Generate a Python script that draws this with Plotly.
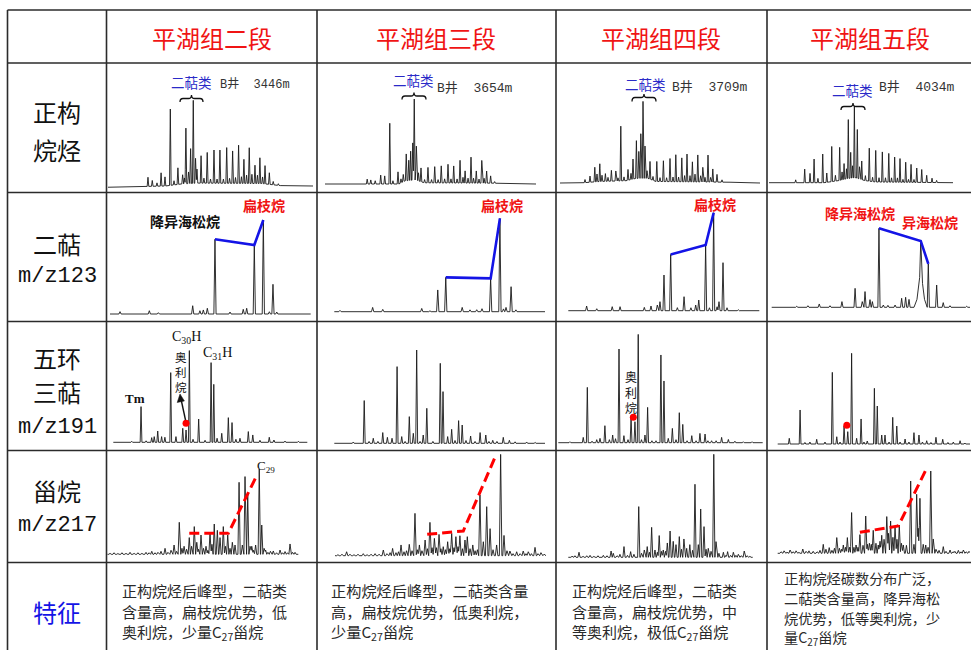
import numpy as np
import plotly.graph_objects as go

W, H = 971, 650
CJK = "Noto Sans CJK SC"
MONO = "Liberation Mono, Noto Sans CJK SC"
SERIF = "Liberation Serif, Noto Sans CJK SC"
RED = "#f01414"
BLUE = "#1414e6"
BLUE_LBL = "#2a2ac8"
INK = "#1a1a1a"

# ---------------- table text ----------------
stages = ["平湖组二段", "平湖组三段", "平湖组四段", "平湖组五段"]
wells = ["B井\u00a0\u00a03446m", "B井\u00a0\u00a03654m", "B井\u00a0\u00a03709m", "B井\u00a0\u00a04034m"]
features = [
    ["正构烷烃后峰型，二萜类", "含量高，扁枝烷优势，低", "奥利烷，少量C<sub>27</sub>甾烷"],
    ["正构烷烃后峰型，二萜类含量", "高，扁枝烷优势，低奥利烷，", "少量C<sub>27</sub>甾烷"],
    ["正构烷烃后峰型，二萜类", "含量高，扁枝烷优势，中", "等奥利烷，极低C<sub>27</sub>甾烷"],
    ["正构烷烃碳数分布广泛，", "二萜类含量高，降异海松", "烷优势，低等奥利烷，少", "量C<sub>27</sub>甾烷"],
]

# ---------------- chromatogram peak tables ----------------
# retention: % of run; abundance: % of the largest peak in that trace

# TIC, n-alkanes
tic2_rt = [19.5, 21.6, 23.9, 25.9, 27.8, 30.4, 32.2, 34.1, 36.4, 37.3, 38.0, 39.3, 40.3, 41.6, 42.7, 43.4, 45.4, 46.8, 48.4, 50.0, 51.7, 53.2, 54.6, 56.3, 57.9, 59.3, 60.8, 62.2, 63.7, 65.1, 66.3, 67.6, 68.9, 70.2, 71.7, 72.9, 74.1, 75.4, 76.6, 78.7, 80.6, 83.1]
tic2_ab = [11, 7, 4, 16, 11, 92, 5, 20, 11, 7, 67, 14, 42, 100, 30, 17, 33, 6, 37, 5, 40, 5, 40, 5, 43, 6, 39, 7, 46, 8, 29, 10, 43, 11, 22, 10, 31, 8, 22, 14, 4, 2]
tic2_base_rt = [0, 28, 36, 44, 75, 84, 100]
tic2_base_ab = [-1.5, 0, 2.5, 3.5, 3, 0.5, 0]

tic3_rt = [20.0, 21.7, 23.8, 26.4, 28.3, 30.7, 32.2, 34.6, 36.0, 37.1, 38.5, 39.7, 40.6, 41.6, 42.3, 43.3, 44.3, 45.5, 47.2, 48.8, 50.5, 52.0, 53.6, 55.1, 56.7, 58.3, 59.7, 61.0, 62.6, 64.0, 65.4, 66.4, 67.8, 69.2, 70.4, 71.7, 73.0, 74.3, 75.4, 76.6, 78.5, 80.4]
tic3_ab = [6, 5, 4, 11, 10, 75, 4, 15, 5, 9, 33, 25, 36, 46, 100, 42, 10, 17, 4, 19, 4, 20, 4, 21, 5, 23, 5, 21, 5, 28, 7, 15, 6, 32, 6, 15, 5, 28, 6, 15, 9, 2]
tic3_base_rt = [0, 35, 38, 43, 47, 80, 100]
tic3_base_ab = [0, 0, 4, 5, 1.5, 1, 0]

tic4_rt = [12.5, 15.0, 17.4, 18.5, 19.9, 21.0, 22.7, 24.0, 25.7, 27.9, 29.0, 30.4, 32.0, 34.0, 35.5, 36.5, 38.2, 39.4, 40.4, 41.5, 42.5, 43.5, 45.0, 46.5, 48.4, 50.0, 51.7, 53.3, 55.0, 56.5, 57.9, 59.3, 60.9, 62.3, 63.5, 65.0, 66.2, 67.5, 68.9, 70.3, 71.4, 72.5, 74.0, 75.3, 76.4, 78.5, 81.0]
tic4_ab = [4, 8, 19, 10, 23, 8, 10, 5, 14, 13, 4, 71, 5, 14, 8, 26, 49, 35, 58, 100, 42, 10, 23, 5, 26, 5, 27, 5, 30, 6, 35, 6, 31, 8, 36, 8, 26, 10, 35, 8, 19, 6, 35, 6, 17, 10, 3]
tic4_base_rt = [0, 10, 20, 33, 38, 44, 48, 85, 100]
tic4_base_ab = [0, 0, 2, 3, 6, 6, 2, 1, 0]

tic5_rt = [14.5, 19.4, 22.3, 24.5, 26.6, 29.2, 31.4, 34.1, 36.1, 38.4, 39.7, 40.8, 42.1, 43.1, 44.4, 45.4, 46.4, 48.0, 49.2, 50.4, 52.4, 54.5, 56.3, 58.0, 59.8, 61.6, 63.3, 65.1, 66.6, 68.3, 69.8, 71.2, 72.8, 74.3, 75.8, 77.2, 78.8, 80.3, 83.0, 85.7, 88.6, 91.1]
tic5_ab = [4, 19, 13, 33, 6, 40, 13, 49, 8, 46, 11, 22, 14, 82, 36, 17, 100, 68, 17, 26, 7, 46, 6, 44, 6, 42, 6, 40, 6, 35, 6, 33, 4, 28, 4, 25, 4, 20, 18, 10, 6, 3]
tic5_base_rt = [0, 30, 38, 43, 47, 52, 58, 100]
tic5_base_ab = [0, 0, 3, 6, 7, 3, 1, 0]

# m/z 123, bicyclic diterpanes
m123_2_rt = [5.0, 19.6, 24.1, 41.2, 44.8, 46.5, 48.5, 52.3, 59.8, 66.4, 68.1, 71.9, 76.4, 79.4, 81.2, 83.1]
m123_2_ab = [2.5, 3.5, 1.4, 8.8, 3.5, 4.3, 6.1, 79.5, 2.1, 5.0, 6.1, 73.4, 100, 2.4, 31.6, 2.1]
m123_2_base_rt = [0, 100]
m123_2_base_ab = [0, 0]
m123_2_guide_rt = [52.3, 71.9, 76.4]

m123_3_rt = [2.7, 18.2, 23.0, 41.5, 45.4, 49.1, 52.9, 60.7, 64.4, 67.6, 70.1, 74.2, 78.6, 80.3, 81.5, 83.9, 86.2]
m123_3_ab = [1.4, 4.6, 2.5, 3.5, 1.0, 23.3, 36.8, 4.6, 2.0, 2.1, 3.2, 35.7, 100, 3.0, 4.6, 26.8, 2.0]
m123_3_base_rt = [0, 100]
m123_3_base_ab = [0, 0]
m123_3_guide_rt = [52.9, 74.2, 78.6]

m123_4_rt = [9.6, 14.9, 23.0, 27.1, 39.8, 43.3, 46.6, 48.0, 50.1, 53.6, 57.1, 60.6, 64.2, 66.7, 68.3, 71.9, 73.9, 76.1, 77.9, 78.9, 81.0, 83.1, 89.0]
m123_4_ab = [4.8, 2.0, 4.1, 4.1, 3.4, 4.8, 5.8, 9.2, 36.4, 57.4, 3.1, 14.3, 3.0, 5.8, 10.9, 67.0, 3.0, 100, 4.0, 9.2, 49.0, 3.0, 1.0]
m123_4_base_rt = [0, 100]
m123_4_base_ab = [0, 0]
m123_4_guide_rt = [53.6, 71.9, 76.1]

m123_5_rt = [12.6, 18.2, 23.9, 29.3, 35.3, 41.9, 45.5, 46.9, 49.4, 50.6, 53.9, 56.1, 58.4, 62.0, 65.3, 67.3, 69.0, 74.9, 78.7, 82.9, 86.2, 89.6, 98.0]
m123_5_ab = [1.3, 2.0, 4.2, 2.0, 7.2, 24.0, 7.2, 19.9, 9.7, 7.2, 100, 2.9, 2.5, 2.9, 11.4, 12.7, 10.0, 34, 55, 28.2, 5.9, 2.0, 1.3]
# broad isopimarane envelope under the sharp apex
m123_5_base_rt = [0, 71.5, 73.0, 74.0, 74.9, 75.8, 76.8, 77.8, 100]
m123_5_base_ab = [0, 0, 10, 30, 50, 30, 10, 0, 0]
m123_5_guide_rt = [53.9, 74.9, 78.7]

# m/z 191, terpanes
m191_2_rt = [9.5, 14.3, 16.9, 19.8, 21.1, 22.9, 24.9, 26.6, 29.6, 32.3, 35.8, 37.5, 39.2, 41.1, 44.0, 47.3, 50.4, 51.8, 53.5, 55.9, 59.3, 61.2, 63.2, 65.3, 69.6, 71.9, 75.6, 80.4, 82.8, 88.5, 95.4]
m191_2_ab = [1.1, 38.9, 1.6, 5.1, 6.2, 12.3, 6.2, 5.5, 76.0, 6.2, 15.3, 13.4, 100, 3.3, 25.4, 2.2, 86.9, 63.2, 4.4, 9.8, 26.9, 21.5, 3.3, 4.4, 11.7, 8.0, 2.2, 5.5, 2.5, 1.4, 1.1]
m191_2_ole = (37.5, 20.7)

m191_3_rt = [9.0, 14.2, 16.5, 18.5, 20.7, 23.0, 25.2, 27.4, 29.8, 32.0, 33.6, 35.6, 37.5, 39.1, 40.7, 42.2, 43.9, 46.8, 50.3, 51.6, 53.8, 55.7, 57.3, 59.0, 60.7, 62.5, 64.7, 66.8, 69.2, 71.9, 73.4, 75.2, 77.2, 80.2, 83.1, 85.8, 91.3, 95.3]
m191_3_ab = [1.4, 45.8, 2.0, 5.4, 2.0, 11.5, 6.4, 5.4, 82.2, 7.2, 2.0, 28.6, 10.7, 100, 2.0, 8.9, 37.5, 2.0, 85.7, 55.4, 7.2, 15.0, 3.0, 24.3, 19.6, 3.0, 7.8, 2.0, 11.5, 8.9, 2.0, 3.2, 2.0, 6.4, 3.2, 1.6, 1.4, 1.0]
m191_3_ole = None

m191_4_rt = [5.7, 12.2, 14.2, 16.5, 18.8, 20.4, 22.8, 25.0, 26.6, 28.0, 29.7, 32.1, 34.1, 35.6, 37.5, 39.1, 40.7, 42.4, 43.7, 45.8, 47.8, 50.2, 51.7, 53.8, 55.8, 57.6, 59.2, 60.9, 63.0, 65.3, 67.4, 69.3, 71.8, 73.2, 75.0, 77.2, 79.9, 83.2, 86.4, 90.5, 94.8]
m191_4_ab = [0.9, 4.9, 51.1, 1.4, 2.8, 4.0, 15.7, 2.8, 7.1, 3.7, 86.5, 6.5, 2.8, 24.0, 19.4, 100, 2.8, 7.1, 32.6, 1.8, 1.8, 81.0, 57.0, 4.0, 13.2, 2.8, 27.7, 16.9, 1.8, 6.5, 1.8, 8.6, 8.0, 1.8, 1.8, 1.8, 4.9, 3.0, 1.4, 0.9, 0.9]
m191_4_ole = (36.7, 23.5)

m191_5_rt = [6.0, 11.6, 14.1, 16.7, 20.2, 24.5, 28.3, 30.6, 32.3, 34.4, 36.3, 38.3, 40.9, 43.2, 44.7, 46.4, 50.1, 51.6, 53.9, 55.6, 57.7, 59.6, 61.7, 63.4, 66.0, 68.0, 70.6, 73.2, 75.0, 77.2, 79.4, 82.0, 85.5, 88.2, 91.0, 94.5, 97.0]
m191_5_ab = [6.3, 37.5, 1.7, 2.2, 5.2, 2.2, 79.0, 8.0, 2.2, 19.8, 13.6, 100, 6.3, 27.6, 2.2, 3.3, 61.4, 41.9, 9.9, 9.9, 2.2, 29.4, 19.8, 2.2, 5.5, 2.2, 12.5, 9.9, 2.2, 3.6, 1.7, 7.4, 5.2, 1.7, 2.2, 3.6, 1.1]
m191_5_ole = (35.8, 20.6)

# m/z 217, steranes
m217_2_rt = [2.1, 4.2, 6.2, 8.3, 10.4, 12.5, 14.6, 16.6, 18.7, 20.8, 22.4, 23.8, 25.5, 27.0, 28.6, 30.7, 32.2, 33.8, 35.4, 36.7, 38.1, 39.5, 40.6, 41.9, 43.3, 44.5, 45.9, 47.2, 48.1, 49.4, 50.7, 52.0, 53.0, 54.1, 55.1, 56.3, 57.9, 59.3, 61.0, 62.1, 63.3, 64.5, 65.7, 67.1, 69.2, 70.9, 72.3, 73.7, 74.9, 75.8, 76.7, 77.8, 79.7, 81.0, 82.2, 83.0, 84.2, 85.5, 87.0, 88.7, 90.5, 91.8, 93.1, 94.4, 95.7, 97.0, 98.3]
m217_2_ab = [1.2, 1.8, 0.9, 1.8, 1.2, 2.3, 1.2, 1.8, 1.2, 2.3, 1.8, 3.5, 1.8, 2.3, 3.5, 7.0, 2.3, 4.7, 10.9, 3.5, 37.5, 7.0, 9.4, 5.9, 19.6, 9.4, 32.5, 14.1, 5.9, 22.6, 7.0, 9.4, 4.7, 25.8, 11.7, 35.5, 28.1, 19.6, 32.5, 9.4, 22.6, 7.0, 14.1, 10.9, 84.4, 10.9, 91.1, 69.5, 9.4, 9.4, 4.7, 10.9, 100, 34.3, 7.0, 5.0, 2.3, 3.5, 3.9, 1.8, 5.0, 1.8, 3.2, 1.8, 12.1, 2.3, 2.3]
m217_2_trend_rt = [43.3, 63.6, 78.7]
m217_2_trend_ab = [24.6, 24.6, 93.8]

m217_3_rt = [1.4, 3.3, 5.5, 7.1, 9.0, 10.9, 13.4, 15.2, 17.1, 19.0, 20.9, 22.9, 24.6, 26.1, 27.3, 28.9, 30.1, 31.3, 32.7, 33.9, 35.2, 36.5, 37.9, 39.0, 40.0, 41.2, 42.7, 43.8, 45.0, 46.0, 47.1, 48.1, 49.3, 50.2, 51.3, 52.4, 53.4, 54.4, 55.3, 56.4, 57.3, 58.3, 59.2, 60.4, 61.6, 62.7, 64.0, 65.3, 66.4, 67.5, 68.7, 70.3, 71.9, 73.5, 74.9, 76.6, 78.5, 80.1, 81.5, 82.9, 84.4, 86.1, 87.7, 89.2, 90.5, 91.6, 93.1, 94.8, 96.2, 97.6, 99.1]
m217_3_ab = [1.0, 1.5, 3.9, 1.5, 1.0, 1.5, 2.0, 1.0, 1.5, 2.0, 1.5, 5.6, 2.0, 3.0, 7.2, 3.0, 3.9, 10.6, 3.9, 4.9, 11.2, 4.9, 41.8, 5.9, 10.6, 4.9, 15.5, 6.9, 32.9, 7.9, 17.1, 7.9, 21.0, 6.9, 8.9, 5.9, 13.8, 6.9, 22.0, 7.9, 18.8, 8.9, 19.7, 6.9, 15.5, 18.8, 6.9, 10.6, 4.9, 5.9, 59.9, 13.8, 48.4, 26.7, 5.9, 10.6, 100, 20.0, 4.9, 4.6, 2.0, 3.9, 2.0, 4.6, 2.0, 3.9, 2.0, 8.2, 2.0, 3.0, 1.5]
m217_3_trend_rt = [43.7, 60.8, 76.3]
m217_3_trend_ab = [21.1, 24.4, 99.4]

m217_4_rt = [2.0, 3.6, 5.8, 8.0, 10.0, 11.8, 13.9, 16.1, 19.0, 21.0, 23.2, 24.4, 26.4, 28.0, 30.2, 32.1, 33.8, 35.6, 38.2, 39.7, 41.2, 42.8, 44.0, 45.2, 47.0, 48.3, 49.3, 50.5, 51.5, 52.7, 53.7, 55.2, 56.9, 58.4, 60.2, 61.4, 62.7, 64.2, 65.9, 67.4, 68.7, 70.5, 71.8, 73.6, 74.7, 75.9, 77.4, 78.9, 80.1, 81.7, 84.1, 85.5, 86.4, 88.0, 89.5, 90.9, 92.2, 93.7, 95.4, 96.9, 98.5]
m217_4_ab = [1.0, 1.5, 4.9, 1.0, 1.5, 1.9, 1.0, 1.5, 1.9, 1.5, 6.1, 3.9, 1.5, 2.9, 10.4, 1.9, 5.5, 2.9, 49.2, 3.9, 7.1, 10.4, 4.9, 29.1, 7.1, 4.9, 21.1, 5.8, 7.1, 5.8, 13.9, 25.5, 15.5, 12.3, 20.1, 7.8, 17.8, 8.7, 12.3, 6.8, 70.9, 12.3, 46.9, 29.8, 7.8, 8.7, 5.8, 100, 15.2, 3.9, 4.9, 1.9, 5.5, 1.9, 4.9, 1.9, 2.9, 1.5, 6.1, 1.5, 1.0]
m217_4_trend_rt = None
m217_4_trend_ab = None

m217_5_rt = [1.7, 3.3, 4.8, 6.4, 7.9, 9.5, 11.0, 13.0, 14.7, 16.2, 18.4, 20.4, 21.9, 23.6, 25.0, 26.7, 28.1, 29.4, 30.6, 32.0, 33.1, 34.0, 35.1, 36.1, 37.2, 38.3, 39.5, 40.6, 41.6, 42.6, 44.2, 45.6, 46.5, 47.5, 48.5, 49.5, 50.9, 52.1, 53.0, 53.9, 55.1, 56.5, 57.4, 58.5, 59.7, 60.8, 61.8, 63.0, 64.1, 65.1, 66.7, 68.9, 70.6, 72.0, 72.8, 73.7, 75.4, 76.7, 77.9, 79.3, 80.6, 82.0, 83.6, 85.8, 87.2, 89.3, 90.8, 91.8, 93.6, 95.0, 96.2, 97.6, 99.1]
m217_5_ab = [1.8, 3.0, 1.2, 4.0, 1.8, 3.0, 1.2, 5.2, 2.4, 3.0, 2.4, 1.8, 3.6, 10.9, 4.9, 6.9, 3.6, 6.1, 19.1, 6.1, 4.9, 10.1, 7.3, 19.1, 7.3, 49.5, 7.3, 10.1, 7.3, 22.7, 9.7, 45.3, 10.9, 12.2, 10.9, 27.9, 12.2, 10.1, 14.6, 21.9, 17.0, 44.6, 24.3, 39.2, 19.4, 32.4, 17.0, 34.4, 12.2, 10.1, 9.7, 87.8, 10.9, 71.7, 30.4, 66.8, 10.9, 10.1, 7.3, 100, 17.4, 4.9, 3.6, 8.1, 2.4, 4.0, 1.8, 2.4, 3.6, 1.8, 4.0, 1.8, 2.4]
m217_5_trend_rt = [42.6, 62.5, 77.2]
m217_5_trend_ab = [25.5, 33.2, 103.3]

# ---------------- page geometry (pixels) ----------------
VX = [7.5, 106.5, 317, 556, 767]          # vertical rules
HY = [10, 63, 192.5, 321.5, 450.5, 562.5]  # horizontal rules
COL_EDGES = [106.5, 317, 556, 767, 971]
# per row/column: trace start x, trace end x, baseline y, pixel height of 100 %
FRAME = [
    [(108, 313, 186, 83), (325, 536, 184, 81), (560, 760, 183, 77), (769, 953, 182.7, 71.7)],
    [(110, 310.7, 314, 94), (334.3, 545, 311.7, 93.3), (568.3, 759.3, 310.7, 98), (771.7, 970.7, 307.3, 79)],
    [(113.3, 307.3, 442.3, 91.7), (334.3, 545, 443.3, 93.3), (558.3, 762.7, 442.7, 108.3), (777.7, 970.7, 444, 90.7)],
    [(106, 298.3, 554.3, 85.3), (335, 546, 555.7, 101.3), (568.3, 752.7, 557.3, 103), (777.7, 970.7, 553.3, 82.3)],
]
HALF_WIDTH = [0.4, 0.55, 0.45, 0.6]


def px(x):
    return x / W


def py(y):
    return 1 - y / H


def profile(rt, ab, hw, base_rt=None, base_ab=None):
    """Piecewise-linear chromatogram: triangular peaks on a baseline."""
    rt = np.asarray(rt, float)
    ab = np.asarray(ab, float)
    knots = [0.0, 100.0] + list(rt) + list(rt - hw) + list(rt + hw)
    if base_rt is not None:
        knots += list(base_rt)
    x = np.unique(np.clip(knots, 0, 100))
    y = np.zeros_like(x)
    if base_rt is not None:
        y += np.interp(x, base_rt, base_ab)
    for r, a in zip(rt, ab):
        y += a * np.clip(1 - np.abs(x - r) / hw, 0, None)
    return x, y


rows = [
    [(tic2_rt, tic2_ab, tic2_base_rt, tic2_base_ab), (tic3_rt, tic3_ab, tic3_base_rt, tic3_base_ab),
     (tic4_rt, tic4_ab, tic4_base_rt, tic4_base_ab), (tic5_rt, tic5_ab, tic5_base_rt, tic5_base_ab)],
    [(m123_2_rt, m123_2_ab, m123_2_base_rt, m123_2_base_ab), (m123_3_rt, m123_3_ab, m123_3_base_rt, m123_3_base_ab),
     (m123_4_rt, m123_4_ab, m123_4_base_rt, m123_4_base_ab), (m123_5_rt, m123_5_ab, m123_5_base_rt, m123_5_base_ab)],
    [(m191_2_rt, m191_2_ab, None, None), (m191_3_rt, m191_3_ab, None, None),
     (m191_4_rt, m191_4_ab, None, None), (m191_5_rt, m191_5_ab, None, None)],
    [(m217_2_rt, m217_2_ab, None, None), (m217_3_rt, m217_3_ab, None, None),
     (m217_4_rt, m217_4_ab, None, None), (m217_5_rt, m217_5_ab, None, None)],
]
guides_123 = [m123_2_guide_rt, m123_3_guide_rt, m123_4_guide_rt, m123_5_guide_rt]
oleanane = [m191_2_ole, m191_3_ole, m191_4_ole, m191_5_ole]
trends_217 = [(m217_2_trend_rt, m217_2_trend_ab), (m217_3_trend_rt, m217_3_trend_ab),
              (m217_4_trend_rt, m217_4_trend_ab), (m217_5_trend_rt, m217_5_trend_ab)]

fig = go.Figure()
axes = {}
n = 0
for ri in range(4):
    for ci in range(4):
        n += 1
        key = "" if n == 1 else str(n)
        xs, xe, base, hpx = FRAME[ri][ci]
        L, R = COL_EDGES[ci] + 1, min(COL_EDGES[ci + 1] - 1, W)
        T, B = HY[ri + 1] + 1, HY[ri + 2] - 1
        xr = [(L - xs) * 100 / (xe - xs), (R - xs) * 100 / (xe - xs)]
        yr = [(base - B) * 100 / hpx, (base - T) * 100 / hpx]
        axes["xaxis" + key] = dict(domain=[L / W, R / W], range=xr, visible=False,
                                   anchor="y" + key, fixedrange=True)
        axes["yaxis" + key] = dict(domain=[1 - B / H, 1 - T / H], range=yr, visible=False,
                                   anchor="x" + key, fixedrange=True)

        rt, ab, brt, bab = rows[ri][ci]
        x, y = profile(rt, ab, HALF_WIDTH[ri], brt, bab)
        fig.add_trace(go.Scatter(x=x, y=y, mode="lines", line=dict(color=INK, width=0.9),
                                 xaxis="x" + key, yaxis="y" + key, hoverinfo="skip", showlegend=False))

        if ri == 1:
            g = np.asarray(guides_123[ci], float)
            fig.add_trace(go.Scatter(x=g, y=np.interp(g, x, y), mode="lines",
                                     line=dict(color=BLUE, width=2.6),
                                     xaxis="x" + key, yaxis="y" + key, hoverinfo="skip", showlegend=False))
        if ri == 2 and oleanane[ci] is not None:
            o_rt, o_ab = oleanane[ci]
            fig.add_trace(go.Scatter(x=[o_rt], y=[o_ab], mode="markers",
                                     marker=dict(color="#ff0000", size=7),
                                     xaxis="x" + key, yaxis="y" + key, hoverinfo="skip", showlegend=False))
        if ri == 3 and trends_217[ci][0] is not None:
            t_rt, t_ab = trends_217[ci]
            fig.add_trace(go.Scatter(x=t_rt, y=t_ab, mode="lines",
                                     line=dict(color="#ff0000", width=3, dash="10px,5px"),
                                     xaxis="x" + key, yaxis="y" + key, hoverinfo="skip", showlegend=False))

# ---------------- table rules ----------------
shapes = []
for y in HY:
    shapes.append(dict(type="line", xref="paper", yref="paper", x0=px(VX[0]), x1=1.0,
                       y0=py(y), y1=py(y), line=dict(color="#2b2b2b", width=1.6)))
for x in VX:
    shapes.append(dict(type="line", xref="paper", yref="paper", x0=px(x), x1=px(x),
                       y0=py(HY[0]), y1=0.0, line=dict(color="#2b2b2b", width=1.6)))


def brace(x0, x1, xc, yt, ym, yb, r=3):
    pts = [("M", [(x0, yb)]), ("Q", [(x0, ym), (x0 + r, ym)]), ("L", [(xc - r, ym)]),
           ("Q", [(xc, ym), (xc, yt)]), ("Q", [(xc, ym), (xc + r, ym)]), ("L", [(x1 - r, ym)]),
           ("Q", [(x1, ym), (x1, yb)])]
    path = " ".join(cmd + " " + " ".join(f"{px(a):.5f},{py(b):.5f}" for a, b in p) for cmd, p in pts)
    return dict(type="path", xref="paper", yref="paper", path=path,
                line=dict(color="#111", width=1.3))


shapes += [brace(180, 203, 191.5, 95, 98.5, 102), brace(402, 426, 414, 92.5, 96, 99.5),
           brace(632, 656, 644, 94, 97.5, 101.5), brace(841, 865, 853, 103, 106.5, 110)]

# arrow from the oleanane marker up to its label
shapes.append(dict(type="line", xref="paper", yref="paper", x0=px(185.5), y0=py(420),
                   x1=px(181.2), y1=py(400), line=dict(color="#111", width=1.4)))
shapes.append(dict(type="path", xref="paper", yref="paper", fillcolor="#111",
                   line=dict(color="#111", width=0.5),
                   path=f"M {px(180):.5f},{py(394):.5f} L {px(177.2):.5f},{py(402.5):.5f} "
                        f"L {px(184.4):.5f},{py(401):.5f} Z"))

# ---------------- text ----------------
ann = []


def text(x, y, s, size, color="#111", family=CJK, xa="center", ya="middle", align="center"):
    ann.append(dict(x=px(x), y=py(y), xref="paper", yref="paper", text=s, showarrow=False,
                    font=dict(family=family, size=size, color=color), xanchor=xa, yanchor=ya,
                    align=align))


for cx, s in zip([212, 436, 661, 870], stages):
    text(cx, 38, s, 24, RED)

text(57, 112, "正构", 24)
text(57, 149, "烷烃", 24)
text(57, 243, "二萜", 24)
text(57, 277, "m/z123", 22, family=MONO)
text(57, 357, "五环", 24)
text(57, 391, "三萜", 24)
text(57, 427, "m/z191", 22, family=MONO)
text(57, 490, "甾烷", 24)
text(57, 525, "m/z217", 22, family=MONO)
text(57, 611, "特征", 24, BLUE)

# n-alkane row labels
for (cx, cy), (wx, wy, ws), well in zip([(191, 82), (413, 80), (645, 84), (852, 90)],
                                         [(218, 84, 12), (435, 88, 13), (670, 87, 13), (877, 87, 13)],
                                         wells):
    text(cx, cy, "二萜类", 13.5, BLUE_LBL)
    text(wx, wy, well, ws, "#333", MONO, xa="left")

# m/z 123 labels
text(185, 221, "<b>降异海松烷</b>", 14, "#111")
text(264, 205, "<b>扁枝烷</b>", 14, RED)
text(502, 205, "<b>扁枝烷</b>", 14, RED)
text(715, 204, "<b>扁枝烷</b>", 14, RED)
text(860, 213, "<b>降异海松烷</b>", 14, RED)
text(930, 222, "<b>异海松烷</b>", 14, RED)

# m/z 191 labels
text(135, 398, "<b>Tm</b>", 13, "#111", SERIF)
text(186, 337, "C<sub>30</sub>H", 14, "#111", SERIF)
text(217, 353, "C<sub>31</sub>H", 14, "#111", SERIF)
text(181, 372, "奥<br>利<br>烷", 11.5, "#111")
text(631, 392, "奥<br>利<br>烷", 12, "#111")

# m/z 217 label
text(266, 466, "C<sub>29</sub>", 13, "#111", SERIF)

# summary row: one line per annotation
for (lx, ys, fs), lines in zip([(120, [590, 611, 632], 15), (329, [590, 611, 632], 15.2),
                                (570, [590, 611, 632], 15), (782, [578, 598, 618, 637.5], 14.2)],
                               features):
    for yy, line in zip(ys, lines):
        text(lx, yy, line, fs, "#2a2a2a", xa="left")

fig.update_layout(
    width=W, height=H, margin=dict(l=0, r=0, t=0, b=0),
    paper_bgcolor="white", plot_bgcolor="rgba(0,0,0,0)",
    shapes=shapes, annotations=ann, showlegend=False, **axes,
)
fig.write_html("out.html")
